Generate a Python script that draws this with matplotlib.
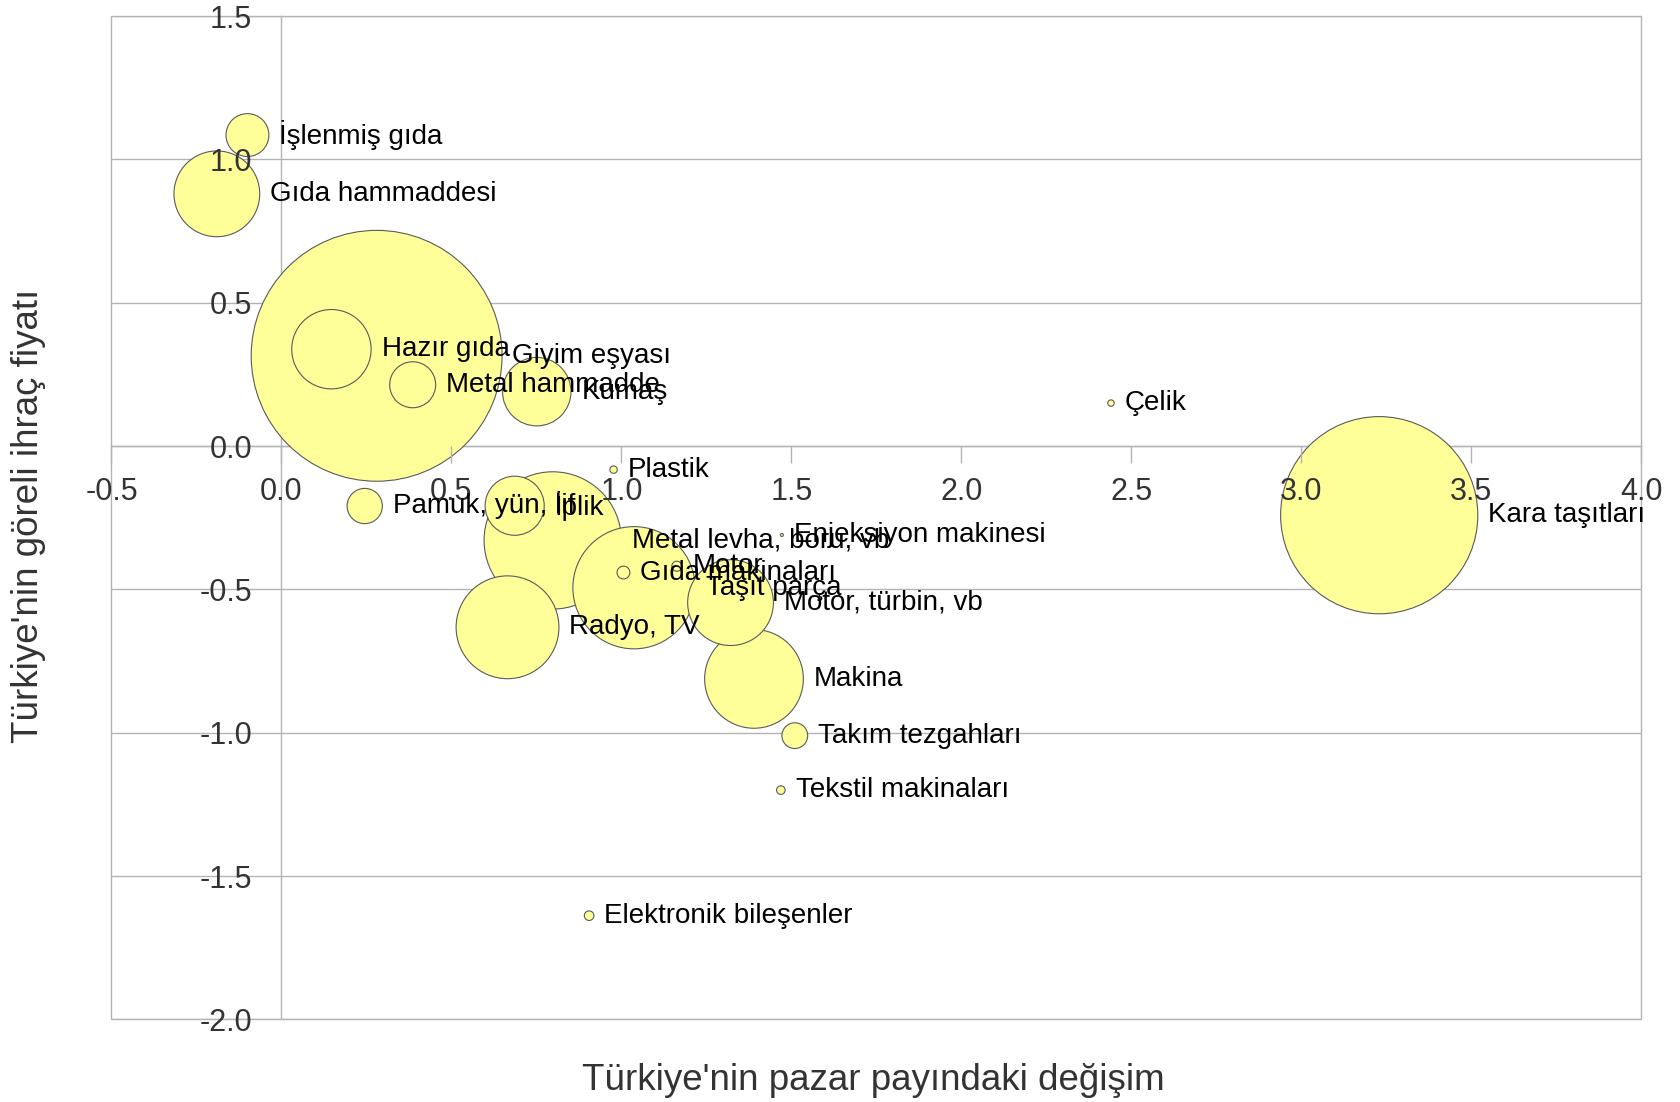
import numpy as np
import matplotlib
matplotlib.use("Agg")
import matplotlib.pyplot as plt
from matplotlib.patches import Rectangle

plt.rcParams['font.family'] = ['Liberation Sans', 'DejaVu Sans']

# Sector data
sectors = [
    "İşlenmiş gıda", "Gıda hammaddesi", "Giyim eşyası", "Hazır gıda",
    "Metal hammadde", "Kumaş", "Çelik", "Plastik", "Kara taşıtları",
    "Pamuk, yün, lif", "İplik", "Metal levha, boru, vb", "Enjeksiyon makinesi",
    "Gıda makinaları", "Motor", "Taşıt parça", "Motor, türbin, vb",
    "Radyo, TV", "Makina", "Takım tezgahları", "Tekstil makinaları",
    "Elektronik bileşenler",
]
share_change = [
    -0.10, -0.19, 0.28, 0.147,
    0.386, 0.751, 2.44, 0.977, 3.229,
    0.245, 0.686, 0.798, 1.472,
    1.006, 1.163, 1.037, 1.321,
    0.665, 1.39, 1.51, 1.469,
    0.905,
]
rel_price = [
    1.085, 0.88, 0.315, 0.338,
    0.214, 0.19, 0.15, -0.082, -0.241,
    -0.209, -0.208, -0.329, -0.31,
    -0.441, -0.419, -0.494, -0.546,
    -0.632, -0.812, -1.01, -1.20,
    -1.638,
]
bubble_size = [
    4.0, 16.0, 136.9, 13.7,
    4.6, 10.2, 0.09, 0.12, 84.6,
    2.7, 7.6, 41.0, 0.02,
    0.36, 0.22, 32.5, 16.0,
    23.0, 21.2, 1.44, 0.16,
    0.2,
]

DPI = 100
GRAY = "#b3b3b3"
TXT = "#333333"

fig = plt.figure(figsize=(16.81, 11.02), dpi=DPI)
ax = fig.add_axes([0.0663, 0.0749, 0.9101, 0.9105])

x = np.array(share_change)
y = np.array(rel_price)
sz = np.array(bubble_size)
r_pt = 10.72 * np.sqrt(sz) * 72 / DPI  # bubble radius in points

# horizontal grid lines under the bubbles
yt = np.arange(-2.0, 1.51, 0.5)
for v in yt:
    ax.axhline(v, color=GRAY, linewidth=1, zorder=1)

# big bubbles first so the small ones stay visible
order = np.argsort(-sz)
ax.scatter(x[order], y[order], s=(2 * r_pt[order]) ** 2, c="#ffff99",
           edgecolors="#5a5a5a", linewidths=0.8, zorder=3)

for name, xi, yi, r in zip(sectors, x, y, r_pt):
    ax.annotate(name, (xi, yi), xytext=(r + 7.5, 0), textcoords="offset points",
                ha="left", va="center", fontsize=20, color="black", zorder=6)

ax.set_xlim(-0.5, 4.0)
ax.set_ylim(-2.0, 1.5)
xt = np.arange(-0.5, 4.01, 0.5)
ax.set_xticks(xt)
ax.set_xticklabels([f"{v:.1f}" for v in xt])
ax.set_yticks(yt)
ax.set_yticklabels([f"{v:.1f}" for v in yt])

# axes cross at the origin, frame drawn separately
ax.spines["left"].set_position(("data", 0))
ax.spines["bottom"].set_position(("data", 0))
for s in ["top", "right"]:
    ax.spines[s].set_visible(False)
for s in ["left", "bottom"]:
    ax.spines[s].set_color(GRAY)
    ax.spines[s].set_linewidth(1)
    ax.spines[s].set_zorder(1.5)
ax.add_patch(Rectangle((0, 0), 1, 1, transform=ax.transAxes, fill=False,
                       edgecolor=GRAY, linewidth=1, zorder=1, clip_on=False))

# tick labels sit on top of the bubbles
ax.xaxis.set_zorder(5)
ax.yaxis.set_zorder(5)
ax.grid(False)
ax.tick_params(axis="x", direction="out", length=12, width=1, color=GRAY,
               pad=10, labelsize=22, labelcolor=TXT)
ax.tick_params(axis="y", length=0, pad=21, labelsize=22, labelcolor=TXT)

fig.text(0.5198, 0.0195, "Türkiye'nin pazar payındaki değişim",
         ha="center", va="center", fontsize=26.5, color=TXT)
fig.text(0.0172, 0.532, "Türkiye'nin göreli ihraç fiyatı", rotation=90,
         ha="center", va="center", fontsize=26.5, color=TXT)

fig.savefig("out.png", dpi=DPI)
